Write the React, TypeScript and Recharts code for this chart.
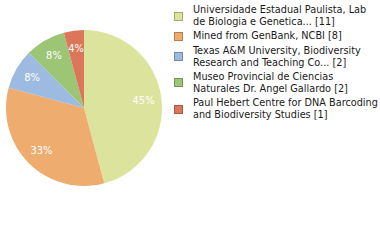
import { PieChart, Pie, Cell, Legend } from 'recharts';

const names = [
  'Universidade Estadual Paulista, Lab de Biologia e Genetica... [11]',
  'Mined from GenBank, NCBI [8]',
  'Texas A&M University, Biodiversity Research and Teaching Co... [2]',
  'Museo Provincial de Ciencias Naturales Dr. Angel Gallardo [2]',
  'Paul Hebert Centre for DNA Barcoding and Biodiversity Studies [1]',
];
const legendLines = [
  ['Universidade Estadual Paulista, Lab', 'de Biologia e Genetica... [11]'],
  ['Mined from GenBank, NCBI [8]'],
  ['Texas A&M University, Biodiversity', 'Research and Teaching Co... [2]'],
  ['Museo Provincial de Ciencias', 'Naturales Dr. Angel Gallardo [2]'],
  ['Paul Hebert Centre for DNA Barcoding', 'and Biodiversity Studies [1]'],
];
const counts = [11, 8, 2, 2, 1];
const colors = ['#dce39d', '#eeac6f', '#9dbbe0', '#9cc575', '#dc765b'];

const data = names.map((name, i) => ({ name, value: counts[i] }));
const total = counts.reduce((a, b) => a + b, 0);

const FONT = '"DejaVu Sans Condensed", "DejaVu Sans", sans-serif';
const RADIAN = Math.PI / 180;

const renderLabel = (props: any) => {
  const { cx, cy, midAngle, outerRadius, value } = props;
  const r = outerRadius * 0.77;
  const x = cx + r * Math.cos(-midAngle * RADIAN);
  const y = cy + r * Math.sin(-midAngle * RADIAN);
  return (
    <text x={x} y={y} fill="#fff" textAnchor="middle" dominantBaseline="central"
      fontSize={11} fontFamily={FONT}>
      {Math.floor((value / total) * 100)}%
    </text>
  );
};

const renderLegend = () => (
  <div style={{ fontFamily: FONT, fontSize: 10.8, color: '#1a1a1a', lineHeight: '12px' }}>
    {legendLines.map((lines, i) => (
      <div key={i} style={{ display: 'flex', alignItems: 'center', marginBottom: 2.25 }}>
        <div style={{
          width: 7, height: 7, background: colors[i],
          border: '1px solid rgba(0,0,0,0.25)', marginRight: 10, flexShrink: 0,
        }} />
        <div>
          {lines.map((l, j) => <div key={j} style={{ whiteSpace: 'nowrap' }}>{l}</div>)}
        </div>
      </div>
    ))}
  </div>
);

const App = () => {
  return (
    <div style={{ position: 'absolute', left: 0, top: 0, width: 380, height: 240, background: '#fff' }}>
      <PieChart width={380} height={240} margin={{ top: 0, right: 0, bottom: 0, left: 0 }}>
        <Pie
          data={data}
          dataKey="value"
          cx={84}
          cy={108}
          outerRadius={78}
          startAngle={90}
          endAngle={-270}
          stroke="none"
          label={renderLabel}
          labelLine={false}
          isAnimationActive={false}
        >
          {data.map((d, i) => <Cell key={d.name} fill={colors[i]} />)}
        </Pie>
        <Legend
          layout="vertical"
          content={renderLegend}
          wrapperStyle={{ position: 'absolute', left: 174, top: 4, width: 206 }}
        />
      </PieChart>
    </div>
  );
};

export default App;
